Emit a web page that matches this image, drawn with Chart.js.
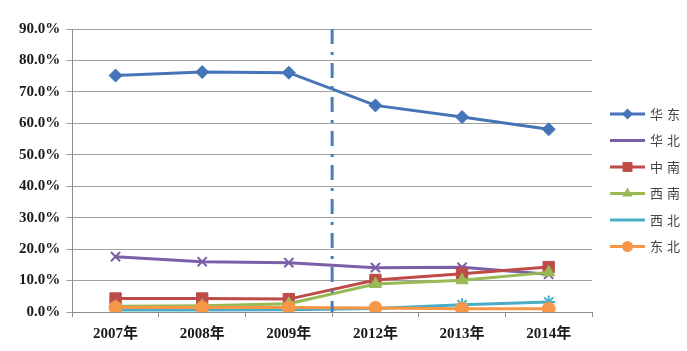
<!DOCTYPE html>
<html>
<head>
<meta charset="utf-8">
<script src="https://cdn.jsdelivr.net/npm/chart.js@4/dist/chart.umd.min.js"></script>
<style>
  html, body { margin: 0; padding: 0; background: #fff; }
  #wrap { width: 687px; height: 351px; }
</style>
</head>
<body>
<div id="wrap"><canvas id="grafico" width="687" height="351"></canvas></div>
<script>
// Dados
const anos = ['2007年', '2008年', '2009年', '2012年', '2013年', '2014年'];
const regioes = ['华东', '华北', '中南', '西南', '西北', '东北'];
const huadong  = [0.752, 0.763, 0.761, 0.657, 0.620, 0.581];
const huabei   = [0.176, 0.160, 0.157, 0.141, 0.142, 0.120];
const zhongnan = [0.043, 0.043, 0.041, 0.102, 0.122, 0.143];
const xinan    = [0.018, 0.020, 0.026, 0.089, 0.101, 0.126];
const xibei    = [0.006, 0.006, 0.007, 0.011, 0.023, 0.032];
const dongbei  = [0.014, 0.014, 0.014, 0.013, 0.010, 0.010];
const yTicks = [0, 0.1, 0.2, 0.3, 0.4, 0.5, 0.6, 0.7, 0.8, 0.9];

const cores = ['#4674b8', '#7b5ea8', '#be4b48', '#98b954', '#4bacc6', '#f79646'];
const marcadores = ['rectRot', 'crossRot', 'rect', 'triangle', 'star', 'circle'];
const raios = [6.5, 6.5, 8, 7, 6.5, 6.5];
const series = [huadong, huabei, zhongnan, xinan, xibei, dongbei];

const fonteSerif = '"Liberation Serif", "Times New Roman", "Noto Sans CJK SC", serif';

// Linha tracejada entre 2009 e 2012
const linhaDivisoria = {
    id: 'linhaDivisoria',
    afterDatasetsDraw(chart) {
        const { ctx, chartArea, scales } = chart;
        const x = scales.x.getPixelForValue(2.5);
        ctx.save();
        ctx.strokeStyle = '#4a7ebb';
        ctx.lineWidth = 3;
        ctx.setLineDash([15, 8, 3, 8]);
        ctx.beginPath();
        ctx.moveTo(x, chartArea.top);
        ctx.lineTo(x, chartArea.bottom);
        ctx.stroke();
        ctx.restore();
    }
};

// Legenda desenhada à mão: linha + marcador
const legendaLateral = {
    id: 'legendaLateral',
    afterDraw(chart) {
        const { ctx } = chart;
        ctx.save();
        chart.data.datasets.slice().reverse().forEach((ds, i) => {
            const y = 114 + i * 26.5;
            ctx.strokeStyle = ds.borderColor;
            ctx.lineWidth = 3;
            ctx.setLineDash([]);
            ctx.beginPath();
            ctx.moveTo(610, y);
            ctx.lineTo(645, y);
            ctx.stroke();
            ctx.fillStyle = ds.backgroundColor;
            ctx.strokeStyle = ds.borderColor;
            ctx.lineWidth = 1.5;
            Chart.helpers.drawPoint(ctx, { pointStyle: ds.pointStyle, radius: ds.pointRadius - 1, rotation: 0 }, 627.5, y);
            ctx.fillStyle = '#444';
            ctx.font = '13px "Noto Sans CJK SC", sans-serif';
            ctx.textBaseline = 'middle';
            const txt = ds.label;
            for (let k = 0; k < txt.length; k++) {
                ctx.fillText(txt[k], 650 + k * 17, y);
            }
        });
        ctx.restore();
    }
};

document.addEventListener('DOMContentLoaded', function () {
    const ctx = document.getElementById('grafico').getContext('2d');

    new Chart(ctx, {
        type: 'line',
        data: {
            labels: anos,
            // ordem invertida para o 华东 ficar por cima
            datasets: series.map((valores, i) => ({
                label: regioes[i],
                data: valores,
                borderColor: cores[i],
                backgroundColor: cores[i],
                borderWidth: 3,
                pointStyle: marcadores[i],
                pointRadius: raios[i],
                pointBorderWidth: marcadores[i] === 'crossRot' || marcadores[i] === 'star' ? 2 : 1,
                pointBackgroundColor: cores[i],
                pointBorderColor: cores[i],
                tension: 0,
                fill: false
            })).reverse()
        },
        options: {
            responsive: false,
            animation: false,
            devicePixelRatio: 1,
            layout: { padding: { top: 29, right: 95, left: 13, bottom: 0 } },
            plugins: {
                legend: { display: false },
                tooltip: { enabled: false }
            },
            scales: {
                x: {
                    offset: true,
                    grid: {
                        offset: true,
                        drawOnChartArea: false,
                        drawTicks: true,
                        tickLength: 5,
                        color: '#8c8c8c'
                    },
                    border: { color: '#8c8c8c', width: 1 },
                    ticks: {
                        color: '#1a1a1a',
                        font: { family: fonteSerif, size: 15, weight: 'bold' },
                        padding: 8,
                        maxRotation: 0
                    }
                },
                y: {
                    min: 0,
                    max: 0.9,
                    afterBuildTicks(axis) {
                        axis.ticks = yTicks.map(v => ({ value: v }));
                    },
                    grid: {
                        color: '#a0a0a0',
                        lineWidth: 1,
                        tickLength: 6
                    },
                    border: { color: '#8c8c8c', width: 1 },
                    ticks: {
                        color: '#1a1a1a',
                        font: { family: fonteSerif, size: 15, weight: 'bold' },
                        padding: 6,
                        callback: v => (v * 100).toFixed(1) + '%'
                    }
                }
            }
        },
        plugins: [linhaDivisoria, legendaLateral]
    });
});
</script>
</body>
</html>
